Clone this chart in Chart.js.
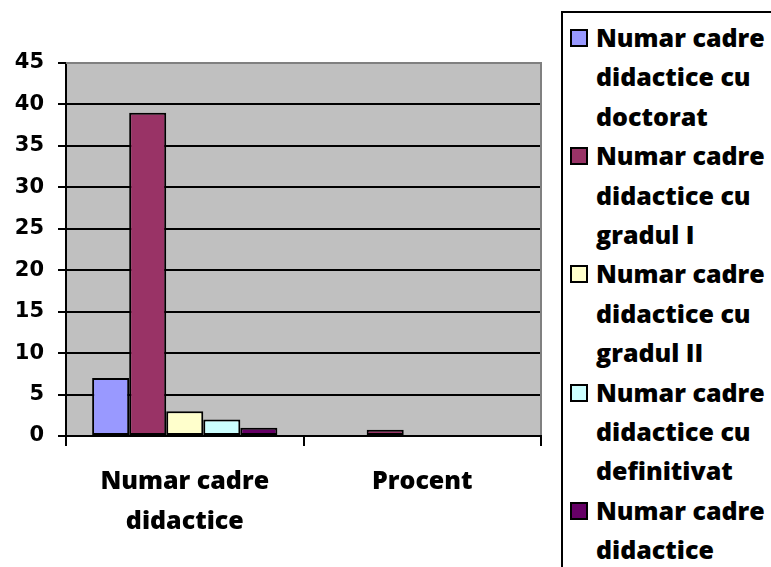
<!DOCTYPE html>
<html>
<head>
<meta charset="utf-8">
<script src="https://cdn.jsdelivr.net/npm/chart.js@4.4.1/dist/chart.umd.min.js"></script>
<style>
    html, body { margin: 0; padding: 0; width: 771px; height: 567px; overflow: hidden; background: #ffffff; }
    #grafico { position: absolute; left: 0; top: 0; }
    #leyenda {
        position: absolute; left: 561px; top: 11px; width: 240px; height: 620px;
        border: 2px solid #000000; box-sizing: border-box; padding-top: 5px;
        font-family: 'Open Sans', sans-serif; font-weight: 800; font-size: 25px; color: #000000;
    }
    .item { position: relative; padding-left: 33px; width: 182px; line-height: 39.4px; }
    .cuadro { position: absolute; left: 7px; top: 11px; width: 14px; height: 14px; border: 2px solid #000000; }
</style>
</head>
<body>
<canvas id="grafico" width="560" height="567"></canvas>
<div id="leyenda"></div>
<script>
// Datos del grafico
const categorias = [['Numar cadre', 'didactice'], 'Procent'];
const series = [
    'Numar cadre didactice cu doctorat',
    'Numar cadre didactice cu gradul I',
    'Numar cadre didactice cu gradul II',
    'Numar cadre didactice cu definitivat',
    'Numar cadre didactice'
];
const doctorat = [7, 0.13];
const gradul1 = [39, 0.75];
const gradul2 = [3, 0.06];
const definitivat = [2, 0.04];
const total = [1, 0.02];
const colores = ['#9999FF', '#993366', '#FFFFCC', '#CCFFFF', '#660066'];

const valores = [doctorat, gradul1, gradul2, definitivat, total];

// Fondo gris del area del grafico y borde superior/derecho
const fondoPlot = {
    id: 'fondoPlot',
    beforeDraw: (chart) => {
        const { ctx, chartArea } = chart;
        ctx.save();
        ctx.fillStyle = '#C0C0C0';
        ctx.fillRect(chartArea.left, chartArea.top, chartArea.right - chartArea.left, chartArea.bottom - chartArea.top);
        ctx.restore();
    },
    afterDraw: (chart) => {
        const { ctx, chartArea } = chart;
        ctx.save();
        ctx.strokeStyle = '#808080';
        ctx.lineWidth = 2;
        ctx.beginPath();
        ctx.moveTo(chartArea.left, chartArea.top);
        ctx.lineTo(chartArea.right, chartArea.top);
        ctx.lineTo(chartArea.right, chartArea.bottom - 1);
        ctx.stroke();
        ctx.restore();
    }
};

const ctx = document.getElementById('grafico').getContext('2d');
const grafico = new Chart(ctx, {
    type: 'bar',
    data: {
        labels: categorias,
        datasets: series.map((nombre, i) => ({
            label: nombre,
            data: valores[i],
            backgroundColor: colores[i],
            borderColor: '#000000',
            borderWidth: 2,
            borderSkipped: false,
            barPercentage: 1,
            categoryPercentage: 0.78
        }))
    },
    options: {
        responsive: false,
        animation: false,
        layout: {
            padding: { top: 63, right: 19, left: 0, bottom: 0 }
        },
        scales: {
            x: {
                afterFit: (scale) => { scale.height = 131; },
                grid: {
                    drawOnChartArea: false,
                    drawTicks: true,
                    tickLength: 10,
                    color: '#000000',
                    lineWidth: 2
                },
                border: { color: '#000000', width: 2 },
                ticks: {
                    color: '#000000',
                    padding: 16,
                    maxRotation: 0,
                    font: { family: 'Open Sans', weight: '800', size: 25, lineHeight: 1.6 }
                }
            },
            y: {
                min: 0,
                max: 45,
                afterFit: (scale) => { scale.width = 66; },
                grid: {
                    color: '#000000',
                    lineWidth: 2,
                    tickLength: 8
                },
                border: { color: '#000000', width: 2 },
                ticks: {
                    stepSize: 5,
                    color: '#000000',
                    padding: 14,
                    font: { family: 'DejaVu Sans', weight: 'bold', size: 21 }
                }
            }
        },
        plugins: {
            legend: { display: false },
            tooltip: { enabled: false }
        }
    },
    plugins: [fondoPlot]
});

// Leyenda en HTML a partir de los datasets
const leyenda = document.getElementById('leyenda');
grafico.data.datasets.forEach((ds) => {
    const item = document.createElement('div');
    item.className = 'item';
    const cuadro = document.createElement('span');
    cuadro.className = 'cuadro';
    cuadro.style.background = ds.backgroundColor;
    item.appendChild(cuadro);
    item.appendChild(document.createTextNode(ds.label));
    leyenda.appendChild(item);
});
</script>
</body>
</html>
